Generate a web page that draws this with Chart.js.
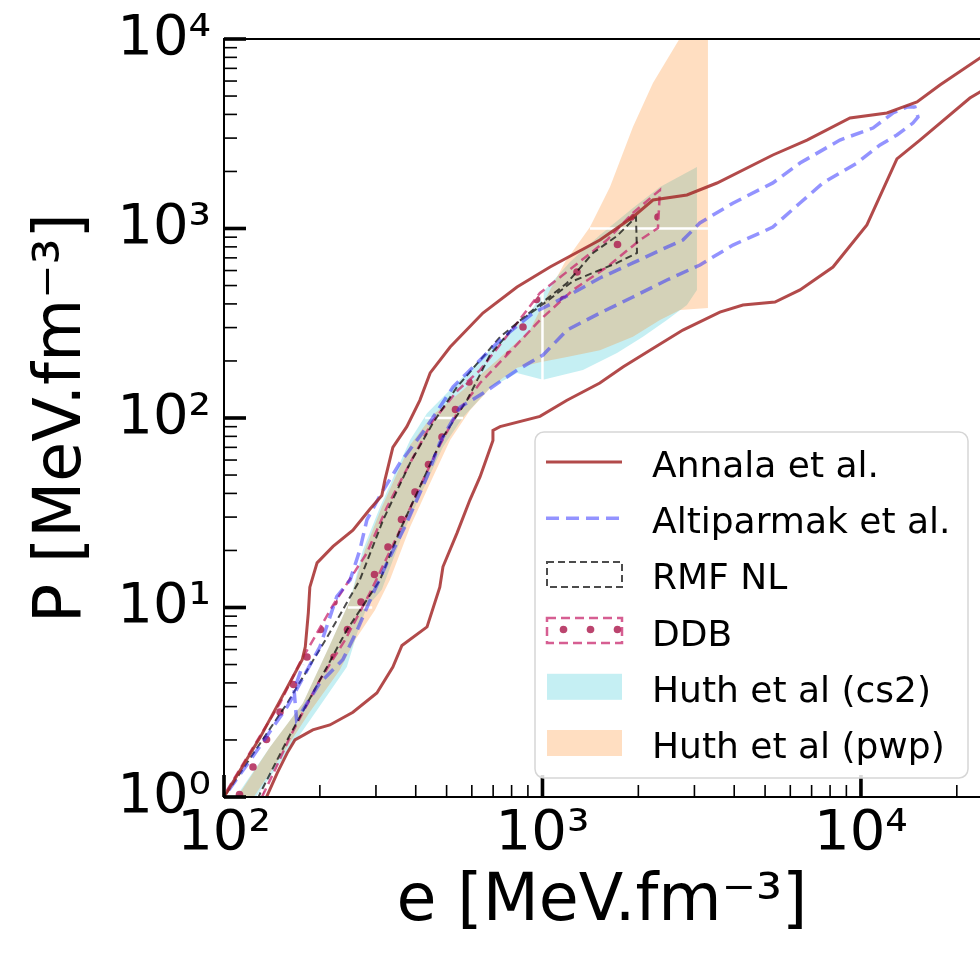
<!DOCTYPE html>
<html>
<head>
<meta charset="utf-8">
<title>EoS constraints</title>
<script src="https://cdn.jsdelivr.net/npm/chart.js"></script>
<style>
  html, body { margin: 0; padding: 0; background: #fff; }
  #wrap { width: 980px; height: 957px; }
</style>
</head>
<body>
<div id="wrap"><canvas id="eos" width="980" height="957"></canvas></div>
<script>
// energy density e and pressure P, both in MeV/fm^3

// Annala et al. : closed contour (upper branch, then lower branch back)
const annalaE = [95, 100, 130, 176, 180, 184, 186, 196, 220, 254, 287, 313, 320, 339, 375, 412, 444, 513, 650, 832, 1056, 1515, 1923, 2223, 2842, 3532, 5290, 6770, 9240, 12070, 13260, 15000, 17700, 23640, 28000,
  27300, 23640, 21980, 15320, 12970, 10440, 8170, 6435, 5370, 4260, 3606, 2760, 2176, 1789, 1514, 1194, 982, 736, 699, 699, 637, 592, 539, 487, 476, 434, 362, 339, 302, 254, 215, 190, 167, 158, 147, 136, 131];
const annalaP = [0.88, 1.0, 2.07, 5.3, 6.2, 9.4, 12.8, 17.2, 21, 25.6, 33, 39, 47, 70, 90, 124, 173, 237, 358, 491, 626, 869, 1150, 1414, 1503, 1738, 2443, 2930, 3830, 4070, 4320, 4650, 5720, 7940, 9000,
  6080, 5250, 4880, 2930, 2330, 1044, 626, 474, 409, 395, 362, 291, 228, 186, 153, 124, 102, 90, 86, 76, 49, 37, 24.7, 16.4, 12.8, 7.9, 6.3, 4.85, 3.54, 2.8, 2.4, 2.26, 2.0, 1.71, 1.34, 1.0, 0.85];

// Altiparmak et al.
const altiE = [96, 102, 123, 158, 200, 226, 249, 267, 281, 309, 357, 434, 524, 580, 736, 933, 1247, 1515, 1923, 2460, 2760, 3120, 3960, 5290, 6435, 8590, 10910, 12600, 13950, 14770, 15100, 14560, 12970, 11480, 9714, 7600, 6435, 5290, 4818, 3963, 3123, 2460, 1923, 1515, 1194, 1004, 832, 650, 551, 476, 434, 375, 325, 294, 262, 236, 200, 169, 166, 177];
const altiP = [0.885, 1.05, 1.63, 3.0, 6.2, 11.4, 14, 20.1, 29, 39, 58, 90, 146, 173, 258, 358, 457, 548, 658, 798, 869, 1070, 1360, 1740, 2215, 2930, 3390, 4070, 4375, 4375, 3875, 3600, 3115, 2760, 2215, 1740, 1363, 1018, 946, 818, 642, 535, 435, 358, 291, 215, 179, 135, 114, 74, 49, 28, 17.2, 11.9, 7.6, 5.3, 4.0, 2.55, 3.67, 5.0];

// RMF NL
const rmfE = [97, 102, 158, 211, 267, 316, 384, 453, 539, 736, 933, 1194, 1441, 1714, 1966, 1981, 1714, 1247, 1056, 832, 684, 580, 487, 421.5, 357, 309, 243, 200, 158, 130, 126];
const rmfP = [0.93, 1.05, 3.13, 6.99, 13.97, 28.95, 57.9, 94.1, 145.8, 267.6, 371.5, 516, 743, 913, 1150, 743, 658, 528, 425, 317, 215, 124.5, 79.4, 47.1, 25.6, 13.97, 7.6, 4.14, 2.0, 1.05, 0.93];

// DDB
const ddbE = [97, 101, 123, 150, 173, 220, 281, 325, 384, 450, 543, 637, 832, 982, 1247, 1594, 1923, 2338, 2305, 2023, 1594, 1247, 982, 790, 637, 539, 467, 404, 349, 287, 240, 200, 161, 144.5, 131.6, 128];
const ddbP = [0.93, 1.05, 1.81, 3.13, 5.1, 10.3, 19.4, 33.9, 57.9, 95.2, 140.5, 179, 317, 457, 626, 869, 1207, 1597, 1006, 869, 626, 474, 329, 223, 153, 106, 67.8, 40.2, 23.6, 11.9, 6.74, 4.14, 2.07, 1.39, 1.0, 0.907];

// Huth et al (cs2) band outline
const cs2E = [108, 109, 139.5, 177, 215, 249, 273, 309, 384, 434, 551, 699, 893, 1018, 1220, 1515, 1923, 2338, 3055, 3055, 2842, 2460, 2068, 1714, 1340, 1004, 832, 684, 563, 487, 421, 365, 313, 281, 262, 243, 196, 158, 127, 124];
const cs2P = [0.95, 1.0, 1.836, 3.13, 6.34, 10.96, 20.1, 33.9, 76.5, 106, 159, 237, 341, 474, 666, 924, 1283, 1656, 2111, 474, 395, 329, 268, 220, 179, 159, 173, 144, 101, 70.3, 41.7, 24.7, 12.4, 10.06, 7.33, 4.85, 2.88, 1.71, 1.02, 0.95];

// Huth et al (pwp) band outline
const pwpE = [108, 139.5, 177, 215, 249, 277, 313, 384, 453, 563, 720, 914, 1056, 1177, 1410, 1629, 1923, 2223, 2703, 2904, 3308, 3308, 2703, 2338, 1923, 1515, 1194, 982, 832, 699, 592, 513, 444, 384, 332, 298, 258, 231, 186, 152, 124, 123];
const pwpP = [0.95, 1.836, 3.13, 6.34, 10.96, 20.1, 33.9, 72, 104, 140.5, 202, 291, 474, 666, 1018, 1656, 3433, 5860, 10120, 14230, 14230, 381, 372, 329, 268, 228, 210, 197, 184, 149, 110, 76.5, 45.4, 26.6, 14, 9.7, 6.74, 4.68, 2.81, 1.67, 1.0, 0.94];

// white seams in the bands at decade boundaries
const seamE = [1000, 1000, null, 1410, 3313, null, 428, 563, null, 245, 292];
const seamP = [158, 516, null, 1000, 1000, null, 100, 100, null, 10, 10];

// axes
const xRange = [100, 23650];
const yRange = [1, 10000];
const xMajor = [100, 1000, 10000];
const yMajor = [1, 10, 100, 1000, 10000];

const FONT = 'DejaVu Sans';
const annalaColor = 'rgba(165,42,42,0.85)';
const altiColor = 'rgba(40,40,255,0.5)';
const rmfColor = 'rgba(0,0,0,0.7)';
const ddbEdge = 'rgba(200,40,110,0.75)';
const ddbDot = 'rgba(175,35,85,0.85)';
const cs2Color = 'rgba(23,190,207,0.25)';
const pwpColor = 'rgba(255,127,14,0.26)';

function pts(es, ps) {
  return es.map((e, i) => ({ x: e, y: ps[i] }));
}

const supDigits = { '0': '⁰', '1': '¹', '2': '²', '3': '³', '4': '⁴', '5': '⁵', '-': '⁻' };
function powLabel(v) {
  const n = Math.round(Math.log10(v));
  return '10' + String(n).split('').map(c => supDigits[c]).join('');
}

// keep the plot box where it is, whatever the labels want
function noEdgePadding(s) {
  s.paddingTop = 0;
  s.paddingBottom = 0;
  s.paddingLeft = 0;
  s.paddingRight = 0;
}

const canvas = document.getElementById('eos');
const ctx0 = canvas.getContext('2d');

// dotted hatch like matplotlib '.'
function dotHatch() {
  const w = 27, h = 55;
  const c = document.createElement('canvas');
  c.width = w; c.height = h;
  const g = c.getContext('2d');
  g.fillStyle = ddbDot;
  const dots = [[10, 52], [23.5, 24.5]];
  for (const [x, y] of dots) {
    for (const dx of [-w, 0, w]) {
      for (const dy of [-h, 0, h]) {
        g.beginPath();
        g.arc(x + dx, y + dy, 3.8, 0, Math.PI * 2);
        g.fill();
      }
    }
  }
  return ctx0.createPattern(c, 'repeat');
}

// inward ticks + frame like matplotlib
const axisDecor = {
  id: 'axisDecor',
  afterDatasetsDraw(chart) {
    const { ctx, chartArea: a, scales: { x, y } } = chart;
    ctx.save();
    ctx.fillStyle = '#000';
    for (let d = 2; d <= 4; d++) {
      for (let k = 1; k <= 9; k++) {
        const v = k * Math.pow(10, d);
        if (v < x.min || v > x.max) continue;
        const px = x.getPixelForValue(v);
        if (k === 1) ctx.fillRect(px - 1.8, a.bottom - 22, 3.6, 22);
        else ctx.fillRect(px - 0.8, a.bottom - 12, 1.6, 12);
      }
    }
    for (let d = 0; d <= 4; d++) {
      for (let k = 1; k <= 9; k++) {
        const v = k * Math.pow(10, d);
        if (v < y.min || v > y.max) continue;
        const py = y.getPixelForValue(v);
        if (k === 1) ctx.fillRect(a.left, py - 1.8, 22, 3.6);
        else ctx.fillRect(a.left, py - 0.8, 13, 1.6);
      }
    }
    ctx.strokeStyle = '#000';
    ctx.lineWidth = 2;
    ctx.beginPath();
    ctx.moveTo(a.right, a.top);
    ctx.lineTo(a.left, a.top);
    ctx.lineTo(a.left, a.bottom);
    ctx.lineTo(a.right, a.bottom);
    ctx.stroke();
    ctx.restore();
  }
};

// legend box drawn the matplotlib way (lines and patches)
const legendPanel = {
  id: 'legendPanel',
  afterDraw(chart) {
    const ctx = chart.ctx;
    const bx = 535, by = 432, bw = 433, bh = 346, r = 9;
    ctx.save();
    ctx.beginPath();
    ctx.moveTo(bx + r, by);
    ctx.lineTo(bx + bw - r, by);
    ctx.arcTo(bx + bw, by, bx + bw, by + r, r);
    ctx.lineTo(bx + bw, by + bh - r);
    ctx.arcTo(bx + bw, by + bh, bx + bw - r, by + bh, r);
    ctx.lineTo(bx + r, by + bh);
    ctx.arcTo(bx, by + bh, bx, by + bh - r, r);
    ctx.lineTo(bx, by + r);
    ctx.arcTo(bx, by, bx + r, by, r);
    ctx.closePath();
    ctx.fillStyle = 'rgba(255,255,255,0.85)';
    ctx.fill();
    ctx.strokeStyle = '#d6d6d6';
    ctx.lineWidth = 1.5;
    ctx.stroke();

    const items = chart.data.datasets.filter(d => d.handle);
    const hx = 547, hw = 75;
    items.forEach((d, i) => {
      const cy = by + 30 + i * 56.2;
      ctx.setLineDash([]);
      if (d.handle === 'line') {
        ctx.setLineDash(d.borderDash || []);
        ctx.strokeStyle = d.borderColor;
        ctx.lineWidth = d.borderWidth;
        ctx.beginPath();
        ctx.moveTo(hx - 1, cy);
        ctx.lineTo(hx + hw, cy);
        ctx.stroke();
      } else {
        if (d.fill) {
          ctx.fillStyle = d.backgroundColor;
          ctx.fillRect(hx, cy - 13, hw, 26);
        }
        if (d.handle === 'box') {
          ctx.setLineDash(d.borderDash || []);
          ctx.strokeStyle = d.borderColor;
          ctx.lineWidth = d.borderWidth;
          ctx.strokeRect(hx, cy - 12.5, hw, 25);
        }
      }
      ctx.setLineDash([]);
      ctx.fillStyle = '#000';
      ctx.font = '36px "' + FONT + '"';
      ctx.textBaseline = 'alphabetic';
      ctx.textAlign = 'left';
      ctx.fillText(d.label, 652, cy + 15);
    });
    ctx.restore();
  }
};

const chart = new Chart(canvas, {
  type: 'scatter',
  data: {
    datasets: [
      {
        label: 'Annala et al.',
        data: pts(annalaE, annalaP),
        showLine: true,
        borderColor: annalaColor,
        borderWidth: 3,
        handle: 'line',
        order: 1
      },
      {
        label: 'Altiparmak et al.',
        data: pts(altiE, altiP),
        showLine: true,
        borderColor: altiColor,
        borderWidth: 3.5,
        borderDash: [13, 7],
        handle: 'line',
        order: 2
      },
      {
        label: 'RMF NL',
        data: pts(rmfE, rmfP),
        showLine: true,
        borderColor: rmfColor,
        borderWidth: 2,
        borderDash: [7, 4],
        handle: 'box',
        order: 3
      },
      {
        label: 'DDB',
        data: pts(ddbE, ddbP),
        showLine: true,
        borderColor: ddbEdge,
        borderWidth: 2.5,
        borderDash: [9, 5],
        backgroundColor: dotHatch(),
        fill: 'shape',
        handle: 'box',
        order: 4
      },
      {
        label: 'seams',
        data: pts(seamE, seamP),
        showLine: true,
        borderColor: '#ffffff',
        borderWidth: 2.5,
        order: 5
      },
      {
        label: 'Huth et al (cs2)',
        data: pts(cs2E, cs2P),
        showLine: true,
        borderColor: 'rgba(0,0,0,0)',
        borderWidth: 0,
        backgroundColor: cs2Color,
        fill: 'shape',
        handle: 'patch',
        order: 7
      },
      {
        label: 'Huth et al (pwp)',
        data: pts(pwpE, pwpP),
        showLine: true,
        borderColor: 'rgba(0,0,0,0)',
        borderWidth: 0,
        backgroundColor: pwpColor,
        fill: 'shape',
        handle: 'patch',
        order: 6
      }
    ]
  },
  options: {
    responsive: false,
    animation: false,
    devicePixelRatio: 1,
    layout: { padding: { top: 39, left: 0, right: 0, bottom: 0 } },
    elements: {
      point: { radius: 0, hoverRadius: 0 },
      line: { tension: 0 }
    },
    plugins: {
      legend: { display: false },
      tooltip: { enabled: false }
    },
    scales: {
      x: {
        type: 'logarithmic',
        min: xRange[0],
        max: xRange[1],
        grid: { display: false, drawTicks: false },
        border: { display: false },
        afterBuildTicks: s => { s.ticks = xMajor.map(v => ({ value: v })); },
        afterFit: s => { s.height = 160; noEdgePadding(s); },
        ticks: {
          autoSkip: false,
          maxRotation: 0,
          padding: 4,
          color: '#000',
          font: { family: FONT, size: 56 },
          callback: v => powLabel(v)
        },
        title: {
          display: true,
          text: 'e [MeV.fm⁻³]',
          color: '#000',
          font: { family: FONT, size: 65 },
          padding: { top: 0, bottom: 15 }
        }
      },
      y: {
        type: 'logarithmic',
        min: yRange[0],
        max: yRange[1],
        grid: { display: false, drawTicks: false },
        border: { display: false },
        afterBuildTicks: s => { s.ticks = yMajor.map(v => ({ value: v })); },
        afterFit: s => { s.width = 224; noEdgePadding(s); },
        ticks: {
          autoSkip: false,
          padding: 13,
          color: '#000',
          font: { family: FONT, size: 56 },
          callback: v => powLabel(v)
        },
        title: {
          display: true,
          text: 'P [MeV.fm⁻³]',
          color: '#000',
          font: { family: FONT, size: 65 },
          padding: { top: 24, bottom: 0 }
        }
      }
    }
  },
  plugins: [axisDecor, legendPanel]
});
</script>
</body>
</html>
